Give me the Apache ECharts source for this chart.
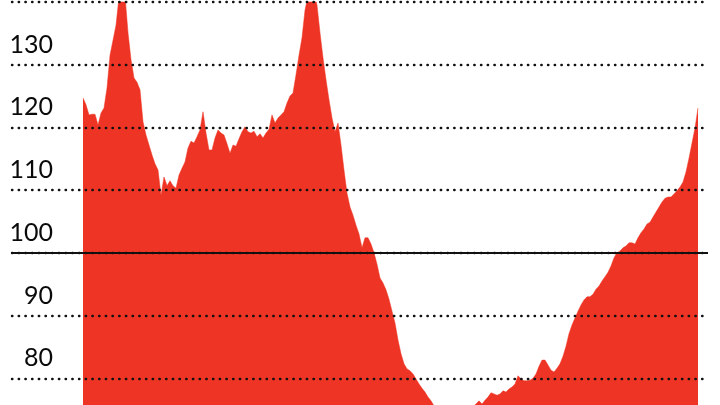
<!DOCTYPE html>
<html>
<head>
<meta charset="utf-8">
<style>
  html, body { margin: 0; padding: 0; background: #ffffff; }
  #chart { width: 720px; height: 405px; }
</style>
<script src="https://cdn.jsdelivr.net/npm/echarts@6/dist/echarts.min.js"></script>
</head>
<body>
<div id="chart"></div>
<script>
// Index values (equal time steps)
const values = [
  124.7, 123.6, 122.0, 122.1, 122.1, 120.4, 122.3, 123.1, 126.3, 131.5,
  133.9, 136.3, 140.8, 142.0, 141.0, 135.1, 130.8, 127.9, 127.2, 126.0,
  120.9, 118.8, 117.2, 115.6, 114.2, 113.2, 109.2, 112.1, 110.7, 111.5,
  110.7, 110.3, 112.4, 113.5, 114.5, 116.7, 117.8, 117.5, 118.5, 119.6,
  122.5, 119.1, 116.4, 116.4, 118.3, 119.6, 119.1, 118.8, 117.4, 115.9,
  117.2, 117.0, 118.2, 119.3, 120.1, 119.3, 119.1, 119.4, 118.5, 119.0,
  118.3, 119.1, 119.7, 122.0, 120.7, 121.5, 122.0, 122.5, 123.9, 125.0,
  125.5, 128.4, 131.5, 134.3, 138.7, 141.0, 142.5, 141.5, 139.5, 135.1,
  131.1, 127.6, 124.4, 121.5, 119.3, 120.7, 117.2, 113.2, 109.5, 107.3,
  106.0, 104.4, 103.0, 100.8, 102.4, 102.4, 101.4, 100.0, 98.2, 96.0,
  95.2, 94.1, 92.6, 90.7, 88.8, 86.1, 83.9, 82.3, 81.5, 81.2,
  80.7, 79.9, 79.1, 78.4, 77.8, 77.0, 76.4, 75.6, 75.0, 74.6,
  74.2, 73.9, 73.7, 73.5, 73.6, 73.8, 74.0, 74.3, 74.7, 75.1,
  75.5, 75.9, 76.4, 75.9, 76.5, 77.0, 77.7, 77.5, 77.3, 77.5,
  78.0, 77.8, 78.3, 78.6, 79.1, 80.4, 79.9, 79.6, 79.6, 79.7,
  80.0, 80.7, 81.9, 82.9, 82.9, 82.1, 81.3, 81.0, 81.6, 82.3,
  83.5, 85.1, 87.1, 88.5, 89.6, 90.7, 91.7, 92.5, 93.0, 93.0,
  93.4, 94.2, 94.7, 95.5, 96.2, 96.9, 97.9, 99.2, 100.0, 100.3,
  100.8, 101.1, 101.6, 101.6, 101.4, 102.4, 103.2, 103.8, 104.6, 104.9,
  105.7, 106.5, 107.3, 108.1, 108.7, 108.9, 108.9, 109.4, 109.9, 110.5,
  111.3, 112.9, 115.1, 117.5, 119.9, 123.1
];
const yTicks = [70, 80, 90, 100, 110, 120, 130, 140];
const baseline = 100;

const seriesData = values.map((v, i) => [i, v]);
const lastIndex = values.length - 1;

const chart = echarts.init(document.getElementById('chart'), null, { renderer: 'canvas' });
chart.setOption({
  animation: false,
  backgroundColor: '#ffffff',
  grid: { left: 12, right: 12, top: 2, bottom: -36, containLabel: false, outerBoundsMode: 'none' },
  xAxis: {
    type: 'value',
    min: -23.67,
    max: lastIndex + 3.33,
    show: false
  },
  yAxis: {
    type: 'value',
    min: yTicks[0],
    max: yTicks[yTicks.length - 1],
    interval: 10,
    offset: -41,
    z: 10,
    axisLine: { show: false },
    axisTick: { show: false },
    axisLabel: {
      margin: 0,
      formatter: '{a|{value}}',
      rich: {
        a: {
          color: '#0a0a0a',
          fontSize: 25,
          fontFamily: 'Lato, "Noto Sans", sans-serif',
          padding: [0, 0, 40, 0]
        }
      }
    },
    splitLine: {
      show: true,
      lineStyle: { color: '#111111', width: 2.4, type: [0.4, 6.3], cap: 'round' }
    }
  },
  series: [{
    type: 'line',
    data: seriesData,
    showSymbol: false,
    symbol: 'none',
    lineStyle: { width: 0.5, color: '#ee3424' },
    areaStyle: { color: '#ee3424', opacity: 1, origin: 'start' },
    markLine: {
      silent: true,
      symbol: ['none', 'none'],
      z: 20,
      label: { show: false },
      lineStyle: { color: '#111111', width: 1.8, type: 'solid' },
      data: [{ yAxis: baseline }]
    }
  }]
});
</script>
</body>
</html>
